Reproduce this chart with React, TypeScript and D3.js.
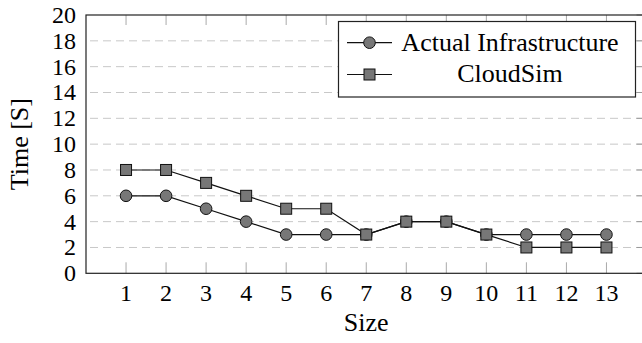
import React from "react";
import * as d3 from "d3";

const sizes = [1, 2, 3, 4, 5, 6, 7, 8, 9, 10, 11, 12, 13];
const actualInfra = [6, 6, 5, 4, 3, 3, 3, 4, 4, 3, 3, 3, 3];
const cloudSim = [8, 8, 7, 6, 5, 5, 3, 4, 4, 3, 2, 2, 2];
const yTicks = [0, 2, 4, 6, 8, 10, 12, 14, 16, 18, 20];
const legendNames = ["Actual Infrastructure", "CloudSim"];

const W = 642, H = 343;
// plot box (right edge runs past the window, like the original)
const left = 86, right = 646.5, top = 15, bottom = 273.3;
const FONT = '"Liberation Serif"';

export default function App() {
  const x = d3.scaleLinear().domain([0, 14]).range([left, right]);
  const y = d3.scaleLinear().domain([0, 20]).range([bottom, top]);

  const line = d3.line<number>()
    .x((d, i) => x(sizes[i]))
    .y(d => y(d));

  const txt = (size: number) => ({ fontFamily: FONT, fontSize: size });

  return (
    <svg width={W} height={H} style={{ position: "absolute", left: 0, top: 0, background: "white" }}>
      {/* dashed grid */}
      {yTicks.filter(t => t > 0 && t < 20).map(t => (
        <line key={"g" + t} x1={left + 4} x2={right} y1={y(t)} y2={y(t)}
          stroke="#c8c8c8" strokeWidth={1} strokeDasharray="8,5" />
      ))}

      {/* x ticks, inward on bottom and top */}
      {sizes.map(s => (
        <g key={"xt" + s} stroke="#aaa">
          <line x1={x(s)} x2={x(s)} y1={bottom} y2={bottom - 11} />
          <line x1={x(s)} x2={x(s)} y1={top} y2={top + 10} />
        </g>
      ))}
      {/* y ticks on the right */}
      {yTicks.map(t => (
        <line key={"yt" + t} x1={right - 10} x2={right} y1={y(t)} y2={y(t)} stroke="#999" />
      ))}

      {/* frame */}
      <rect x={left} y={top} width={right - left} height={bottom - top}
        fill="none" stroke="#222" strokeWidth={1.2} />

      {/* tick labels */}
      {yTicks.map(t => (
        <text key={"yl" + t} x={left - 10} y={y(t) + 8} textAnchor="end" style={txt(24)}>{t}</text>
      ))}
      {sizes.map(s => (
        <text key={"xl" + s} x={x(s)} y={bottom + 28} textAnchor="middle" style={txt(24)}>{s}</text>
      ))}

      {/* axis titles */}
      <text x={(left + right) / 2} y={331} textAnchor="middle" style={txt(26)}>Size</text>
      <text transform={`translate(28, ${(top + bottom) / 2}) rotate(-90)`} textAnchor="middle" style={txt(26)}>
        Time [S]
      </text>

      {/* series */}
      {[actualInfra, cloudSim].map((vals, k) => (
        <path key={"p" + k} d={line(vals) || ""} fill="none" stroke="#111" strokeWidth={1.2} />
      ))}
      {actualInfra.map((v, i) => (
        <circle key={"c" + i} cx={x(sizes[i])} cy={y(v)} r={5.8} fill="#777" stroke="#111" />
      ))}
      {cloudSim.map((v, i) => (
        <rect key={"s" + i} x={x(sizes[i]) - 5.5} y={y(v) - 5.5} width={11} height={11}
          fill="#777" stroke="#111" />
      ))}

      {/* legend */}
      <rect x={338.5} y={21.5} width={297} height={75.5} fill="white" stroke="#222" strokeWidth={1.2} />
      {legendNames.map((name, i) => {
        const cy = [42.7, 74.5][i];
        return (
          <g key={name}>
            <line x1={347} x2={392} y1={cy} y2={cy} stroke="#111" strokeWidth={1.2} />
            {i === 0
              ? <circle cx={369.5} cy={cy} r={5.8} fill="#777" stroke="#111" />
              : <rect x={364} y={cy - 5.5} width={11} height={11} fill="#777" stroke="#111" />}
            <text x={510} y={cy + 7.8} textAnchor="middle" style={txt(26)}>{name}</text>
          </g>
        );
      })}
    </svg>
  );
}
